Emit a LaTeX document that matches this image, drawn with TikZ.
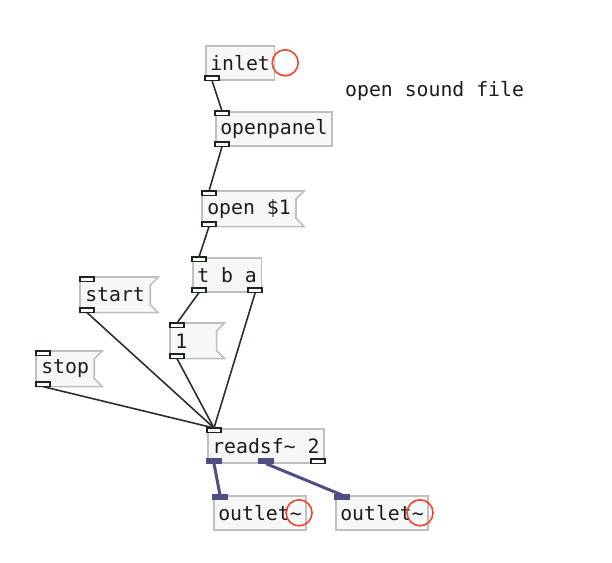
\documentclass[tikz,border=0pt]{standalone}
\usepackage{fontspec}
\setmonofont{DejaVu Sans Mono}
\usepackage{tikz}
\usetikzlibrary{backgrounds}
\definecolor{PDedge}{HTML}{BFBFBF}
\definecolor{PDfill}{HTML}{F6F7F7}
\definecolor{PDink}{HTML}{1C1C1C}
\definecolor{PDport}{HTML}{1A261A}
\definecolor{PDwire}{HTML}{2A302A}
\definecolor{PDsig}{HTML}{4F4F86}
\definecolor{PDmark}{HTML}{F0452E}
\tikzset{
  pdbox/.style={
    rectangle, draw=PDedge, line width=1.6pt, fill=PDfill, text=PDink,
    anchor=north west, minimum height=34pt, inner xsep=4.5pt, inner ysep=0pt},
  pdmsg/.style={pdbox, draw=none, fill=none},
  pdflag/.style={draw=PDedge, line width=1.6pt, fill=PDfill},
  pdport/.style={rectangle, draw=PDport, line width=1.5pt, fill=white,
    minimum width=14pt, minimum height=4.5pt, inner sep=0pt, outer sep=0pt},
  pdsport/.style={pdport, draw=PDsig, fill=PDsig},
  pdwire/.style={line width=1.6pt, draw=PDwire},
  pdswire/.style={line width=3pt, draw=PDsig},
  pdmark/.style={circle, draw=PDmark, line width=1.6pt, minimum size=26pt, inner sep=0pt},
  pdnote/.style={text=PDink, anchor=west, inner sep=0pt},
}
% flag outline of a message box
\newcommand{\pdflagbox}[1]{%
  \path[pdflag] (#1.north west) -- ([xshift=8pt]#1.north east)
    -- ([yshift=-8pt]#1.north east) -- ([yshift=8pt]#1.south east)
    -- ([xshift=8pt]#1.south east) -- (#1.south west) -- cycle;}

\begin{document}
\begin{tikzpicture}[x=1pt, y=-1pt, font=\ttfamily\fontsize{19.8}{22}\selectfont]
  \useasboundingbox (0,0) rectangle (612,562);
  %% Objects and messages
  \node[pdbox] (inlet) at (205,45) {inlet};
  \node[pdbox] (opan) at (215,111) {openpanel};
  \node[pdmsg] (open) at (202,191) {open \$1};
  \node[pdbox] (tba) at (192,257) {t b a};
  \node[pdmsg] (start) at (80,277) {start};
  \node[pdmsg, text width=36pt, align=left] (one) at (170,323) {1};
  \node[pdmsg] (stop) at (36,351) {stop};
  \node[pdbox] (rsf) at (207,428) {readsf\textasciitilde{} 2};
  \node[pdbox] (outA) at (213,495) {outlet\textasciitilde};
  \node[pdbox] (outB) at (335,495) {outlet\textasciitilde};
  \node[pdnote] (note) at (345,91) {open sound file};
  %% Message flags
  \begin{scope}[on background layer]
    \fill[white] (0,0) rectangle (612,562);
    \pdflagbox{open} \pdflagbox{start} \pdflagbox{one} \pdflagbox{stop}
  \end{scope}
  %% Ports
  \node[pdport, anchor=south west] (inletO) at (inlet.south west) {};
  \node[pdport, anchor=north west] (opanI) at (opan.north west) {};
  \node[pdport, anchor=south west] (opanO) at (opan.south west) {};
  \node[pdport, anchor=north west] (openI) at (open.north west) {};
  \node[pdport, anchor=south west] (openO) at (open.south west) {};
  \node[pdport, anchor=north west] (tbaI) at (tba.north west) {};
  \node[pdport, anchor=south west] (tbaO0) at (tba.south west) {};
  \node[pdport, anchor=south east] (tbaO1) at (tba.south east) {};
  \node[pdport, anchor=north west] (startI) at (start.north west) {};
  \node[pdport, anchor=south west] (startO) at (start.south west) {};
  \node[pdport, anchor=north west] (oneI) at (one.north west) {};
  \node[pdport, anchor=south west] (oneO) at (one.south west) {};
  \node[pdport, anchor=north west] (stopI) at (stop.north west) {};
  \node[pdport, anchor=south west] (stopO) at (stop.south west) {};
  \node[pdport, anchor=north west] (rsfI) at (rsf.north west) {};
  \node[pdsport, anchor=south west] (rsfO0) at (rsf.south west) {};
  \node[pdsport, anchor=south] (rsfO1) at (rsf.south) {};
  \node[pdport, anchor=south east] (rsfO2) at (rsf.south east) {};
  \node[pdsport, anchor=north west] (outAI) at (outA.north west) {};
  \node[pdsport, anchor=north west] (outBI) at (outB.north west) {};
  %% Marks
  \node[pdmark] (mkIn) at ([xshift=10pt]inlet.east) {};
  \node[pdmark] (mkA) at ([xshift=-8pt]outA.east) {};
  \node[pdmark] (mkB) at ([xshift=-9pt]outB.east) {};
  %% Wires
  \draw[pdwire] (inletO.south) -- (opanI.north);
  \draw[pdwire] (opanO.south) -- (openI.north);
  \draw[pdwire] (openO.south) -- (tbaI.north);
  \draw[pdwire] (tbaO0.south) -- (oneI.north);
  \draw[pdwire] (tbaO1.south) -- (rsfI.north);
  \draw[pdwire] (oneO.south) -- (rsfI.north);
  \draw[pdwire] (startO.south) -- (rsfI.north);
  \draw[pdwire] (stopO.south) -- (rsfI.north);
  \draw[pdswire] (rsfO0.south) -- (outAI.north);
  \draw[pdswire] (rsfO1.south) -- (outBI.north);
\end{tikzpicture}
\end{document}
